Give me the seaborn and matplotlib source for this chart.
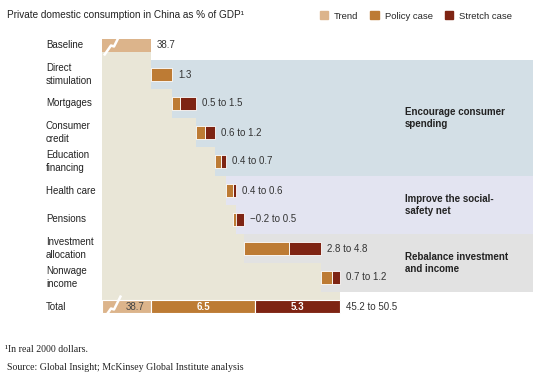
import matplotlib
matplotlib.use("Agg")
import matplotlib.pyplot as plt
from matplotlib.patches import Patch
import seaborn as sns

# Data
categories = ["Baseline", "Direct\nstimulation", "Mortgages", "Consumer\ncredit",
              "Education\nfinancing", "Health care", "Pensions",
              "Investment\nallocation", "Nonwage\nincome", "Total"]
baseline = 38.7
policy = [1.3, 0.5, 0.6, 0.4, 0.4, -0.2, 2.8, 0.7]
stretch_high = [1.3, 1.5, 1.2, 0.7, 0.6, 0.5, 4.8, 1.2]
range_labels = ["1.3", "0.5 to 1.5", "0.6 to 1.2", "0.4 to 0.7", "0.4 to 0.6",
                "\u22120.2 to 0.5", "2.8 to 4.8", "0.7 to 1.2"]
groups = ["Encourage consumer\nspending", "Improve the social-\nsafety net",
          "Rebalance investment\nand income"]
group_rows = [(1, 4), (5, 6), (7, 8)]

# Colours
c_trend = "#dcb48b"
c_policy = "#bd7b34"
c_stretch = "#7e2413"
c_beige = "#e9e6d7"
band_colors = ["#d3dfe6", "#e3e4f1", "#e2e2e2"]

sns.set_style("white")
plt.rcParams["font.family"] = ["Liberation Sans Narrow", "Liberation Sans", "DejaVu Sans"]

fig = plt.figure(figsize=(5.45, 3.8), dpi=100)
ax = fig.add_axes([0, 0, 1, 1])
# 16 px per unit horizontally, 29 px per row vertically
X0 = baseline - 151 / 16
ax.set_xlim(X0, X0 + 545 / 16)
ax.set_ylim((380 - 45.5) / 29, -45.5 / 29)
ax.axis("off")

def px(p):
    return X0 + p / 16

xmin = px(102)
xband = px(533)
h = 0.47
fs = 7

# cumulative starts
starts = []
s = baseline
for hi in stretch_high:
    starts.append(s)
    s += hi
total_high = s
total_policy = baseline + sum(policy)

# group bands
for (r0, r1), col in zip(group_rows, band_colors):
    ax.fill_betweenx([r0 - 0.5, r1 + 0.5], xmin, xband, color=col, lw=0, zorder=0)

# beige staircase
ax.fill_betweenx([h / 2, 0.5], xmin, baseline, color=c_beige, lw=0, zorder=1)
for i, st in enumerate(starts):
    ax.fill_betweenx([i + 0.5, i + 1.5], xmin, st, color=c_beige, lw=0, zorder=1)
ax.fill_betweenx([8.5, 9 - h / 2], xmin, total_high, color=c_beige, lw=0, zorder=1)

# baseline bar
ax.barh(0, baseline - xmin, left=xmin, height=h, color=c_trend, lw=0, zorder=2)
ax.text(baseline + 0.38, 0, "38.7", va="center", ha="left", fontsize=fs, color="#333333")

# waterfall bars
for i, (st, p, hi) in enumerate(zip(starts, policy, stretch_high)):
    y = i + 1
    if hi - p > 0:
        ax.barh(y, hi - p, left=st + p, height=h, color=c_stretch,
                edgecolor="white", lw=0.6, zorder=2)
    ax.barh(y, p, left=st, height=h, color=c_policy, edgecolor="white", lw=0.6, zorder=3)
    ax.text(st + max(hi, p) + 0.38, y, range_labels[i], va="center", ha="left",
            fontsize=fs, color="#333333")

# total bar
ax.barh(9, baseline - xmin, left=xmin, height=h, color=c_trend, edgecolor="white", lw=0.8, zorder=2)
ax.barh(9, total_policy - baseline, left=baseline, height=h, color=c_policy,
        edgecolor="white", lw=0.8, zorder=2)
ax.barh(9, total_high - total_policy, left=total_policy, height=h, color=c_stretch,
        edgecolor="white", lw=0.8, zorder=2)
ax.text(baseline - 0.38, 9, f"{baseline:.1f}", va="center", ha="right", fontsize=fs, color="#444444")
ax.text((baseline + total_policy) / 2, 9, f"{total_policy - baseline:.1f}", va="center",
        ha="center", fontsize=fs, color="white", fontweight="bold")
ax.text((total_policy + total_high) / 2, 9, f"{total_high - total_policy:.1f}", va="center",
        ha="center", fontsize=fs, color="white", fontweight="bold")
ax.text(total_high + 0.38, 9, f"{total_policy:.1f} to {total_high:.1f}", va="center",
        ha="left", fontsize=fs, color="#333333")

# axis break marks
zig = [(2, 10), (9, 0), (12, 1), (19, -13)]
for row, shift in [(0, 0), (9, 2)]:
    ax.plot([xmin + dx / 16 for dx, dy in zig], [row + (dy + shift) / 29 for dx, dy in zig],
            color="white", lw=1.8, zorder=4, solid_capstyle="butt")

# row labels
for i, cat in enumerate(categories):
    ax.text(px(46), i, cat, va="center", ha="left", fontsize=fs, color="#222222",
            linespacing=1.3)

# group labels
for g, (r0, r1) in zip(groups, group_rows):
    ax.text(px(405), (r0 + r1) / 2, g, va="center", ha="left", fontsize=fs,
            fontweight="bold", color="#222222", linespacing=1.35)

# title and legend
fig.text(7 / 545, 1 - 15 / 380, "Private domestic consumption in China as % of GDP\u00b9",
         va="center", ha="left", fontsize=7.2, color="#222222")
handles = [Patch(color=c_trend, label="Trend"), Patch(color=c_policy, label="Policy case"),
           Patch(color=c_stretch, label="Stretch case")]
fig.legend(handles=handles, loc="center right", bbox_to_anchor=(512 / 545, 1 - 16 / 380),
           ncol=3, frameon=False, fontsize=6.8, handlelength=0.9, handleheight=0.9,
           handletextpad=0.6, columnspacing=1.3, borderaxespad=0, borderpad=0)

# footnotes
fig.text(5 / 545, 1 - 350 / 380, "\u00b9In real 2000 dollars.", va="center", ha="left",
         fontsize=7.1, family="Liberation Serif", color="#222222")
fig.text(7 / 545, 1 - 368 / 380, "Source: Global Insight; McKinsey Global Institute analysis",
         va="center", ha="left", fontsize=7.1, family="Liberation Serif", color="#222222")

fig.savefig("out.png", dpi=100)
